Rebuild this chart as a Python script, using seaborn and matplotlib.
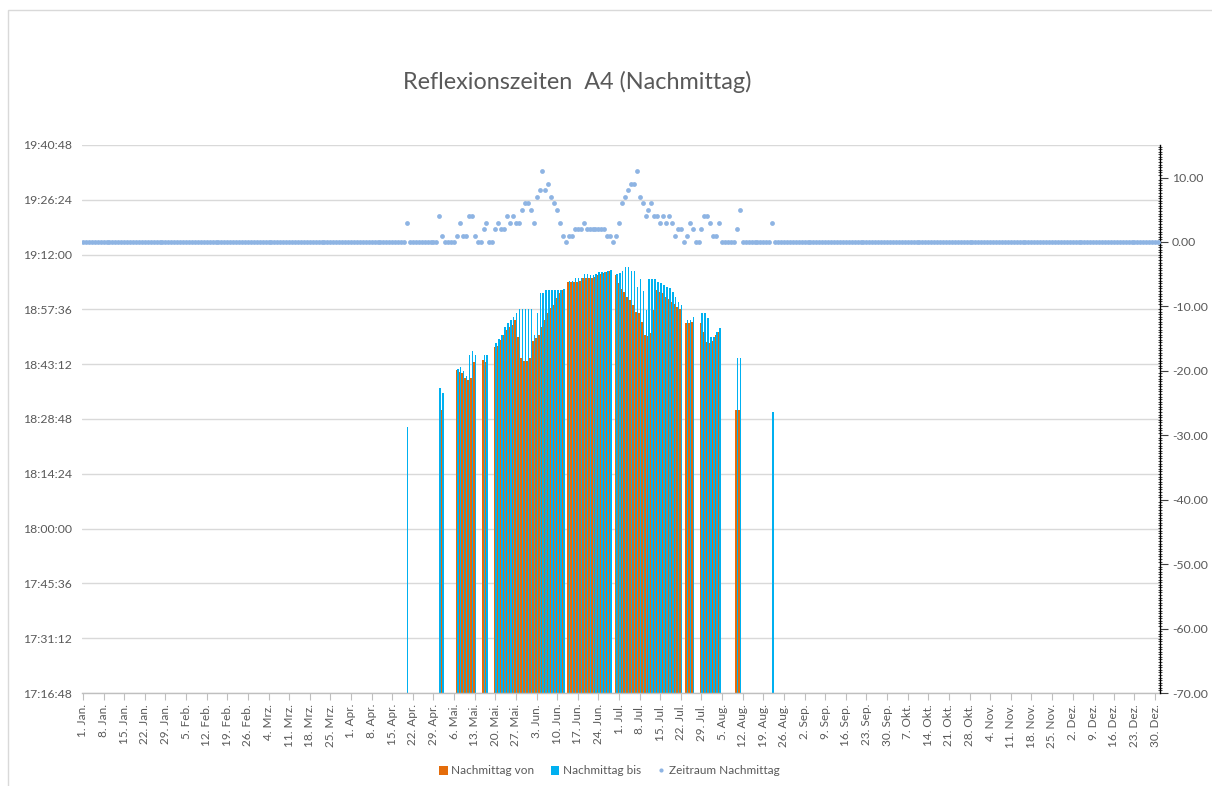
import numpy as np
import pandas as pd
import matplotlib
matplotlib.use("Agg")
import matplotlib.pyplot as plt
import seaborn as sns
from matplotlib.ticker import FixedLocator, FuncFormatter, MultipleLocator
from matplotlib.patches import Rectangle, Patch
from matplotlib.lines import Line2D

# ---------------- data ----------------
titel = "Reflexionszeiten  A4 (Nachmittag)"
serien = ["Nachmittag von", "Nachmittag bis", "Zeitraum Nachmittag"]
anzahl_tage = 366          # 2020 (Schaltjahr), Tag 0 = 1. Jan.
erster_tag = 110           # 20. Apr.

# Nachmittag von (Tage 110 .. 234)
von = (
    [None] * 12                                                   # 110-121
    + ["18:31:10"]                                                # 122
    + [None] * 4                                                  # 123-126
    + ["18:41:40", "18:41:09", "18:40:53", "18:39:34", "18:39:03", "18:39:34", "18:43:47"]  # 127-133
    + [None] * 2
    + ["18:44:18", "18:43:47"]                                    # 136-137
    + [None] * 2
    + ["18:47:43", "18:47:59", "18:49:33", "18:50:52", "18:52:11", "18:52:58", "18:53:30",
       "18:54:49", "18:50:21", "18:44:50", "18:44:02", "18:44:02", "18:44:50", "18:49:18",
       "18:50:05", "18:50:52", "18:52:58", "18:54:49", "18:56:39", "18:57:58", "18:58:45",
       "19:00:36", "19:01:55", "19:02:42"]                        # 140-163
    + [None]
    + ["19:04:48", "19:04:48", "19:04:48", "19:04:48", "19:05:04", "19:05:51", "19:05:51",
       "19:05:51", "19:05:51", "19:06:07", "19:06:38", "19:06:54", "19:07:10", "19:07:26",
       "19:07:41"]                                                # 165-179
    + [None]
    + ["19:06:38", "19:04:32", "19:02:58", "19:02:10", "19:00:52", "19:00:04", "18:58:45",
       "18:56:55", "18:56:39", "18:54:17", "18:50:52", "18:50:37", "18:51:24", "18:57:26",
       "19:02:42", "19:02:10", "19:01:55", "19:00:52", "19:00:20", "18:59:32", "18:59:01",
       "18:58:14", "18:57:42"]                                    # 181-203
    + [None]
    + ["18:54:01", "18:54:01", "18:54:17"]                        # 205-207
    + [None] * 2
    + ["18:54:01", "18:51:40", "18:49:02", "18:48:46", "18:49:18", "18:50:52", "18:51:40"]  # 210-216
    + [None] * 5
    + ["18:31:10", "18:31:10"]                                    # 222-223
    + [None] * 11                                                 # 224-234
)

# Nachmittag bis (Tage 110 .. 234)
bis = (
    ["18:26:42"]                                                  # 110
    + [None] * 10
    + ["18:36:56", "18:35:38"]                                    # 121-122
    + [None] * 4
    + ["18:41:56", "18:42:28", "18:41:25", "18:40:06", "18:45:37", "18:46:40", "18:45:37"]  # 127-133
    + [None] * 2
    + ["18:45:37", "18:45:37"]                                    # 136-137
    + [None] * 2
    + ["18:48:46", "18:49:49", "18:50:52", "18:52:58", "18:54:01", "18:54:49", "18:55:36",
       "18:56:39", "18:57:42", "18:57:42", "18:57:42", "18:57:42", "18:57:42", "18:50:52",
       "18:56:39", "19:01:55", "19:01:55", "19:02:42", "19:02:42", "19:02:42", "19:02:42",
       "19:02:42", "19:02:42", "19:02:58"]                        # 140-163
    + [None]
    + ["19:05:04", "19:05:04", "19:05:51", "19:05:51", "19:05:51", "19:06:54", "19:06:54",
       "19:06:38", "19:06:38", "19:06:54", "19:07:26", "19:07:26", "19:07:26", "19:07:41",
       "19:07:57"]                                                # 165-179
    + [None]
    + ["19:06:54", "19:07:10", "19:07:41", "19:08:44", "19:08:44", "19:07:41", "19:07:41",
       "19:03:29", "19:05:35", "19:02:26", "18:57:26", "19:05:35", "19:05:35", "19:05:35",
       "19:04:48", "19:04:32", "19:04:01", "19:03:29", "19:03:13", "19:02:10", "19:00:52",
       "18:59:32", "18:58:45"]                                    # 181-203
    + [None]
    + ["18:54:49", "18:54:49", "18:55:36"]                        # 205-207
    + [None] * 2
    + ["18:56:39", "18:56:39", "18:55:20", "18:50:21", "18:50:21", "18:51:40", "18:52:43"]  # 210-216
    + [None] * 5
    + ["18:44:50", "18:44:50"]                                    # 222-223
    + [None] * 10
    + ["18:30:38"]                                                # 234
)

# Zeitraum Nachmittag (Tage 110 .. 234), sonst 0
zeitraum = (
    [3] + [0] * 10
    + [4, 1] + [0] * 4
    + [1, 3, 1, 1, 4, 4, 1] + [0, 0]
    + [2, 3] + [0, 0]
    + [2, 3, 2, 2, 4, 3, 4, 3, 3, 5, 6, 6, 5, 3, 7, 8, 11, 8, 9, 7, 6, 5, 3, 1]
    + [0]
    + [1, 1, 2, 2, 2, 3, 2, 2, 2, 2, 2, 2, 2, 1, 1]
    + [0]
    + [1, 3, 6, 7, 8, 9, 9, 11, 7, 6, 4, 5, 6, 4, 4, 3, 4, 3, 4, 3, 1, 2, 2]
    + [0]
    + [1, 3, 2] + [0, 0]
    + [2, 4, 4, 3, 1, 1, 3] + [0] * 5
    + [2, 5] + [0] * 10
    + [3]
)

x_tick_tage = list(range(0, 365, 7))
x_tick_labels = [
    "1. Jan.", "8. Jan.", "15. Jan.", "22. Jan.", "29. Jan.",
    "5. Feb.", "12. Feb.", "19. Feb.", "26. Feb.",
    "4. Mrz.", "11. Mrz.", "18. Mrz.", "25. Mrz.",
    "1. Apr.", "8. Apr.", "15. Apr.", "22. Apr.", "29. Apr.",
    "6. Mai.", "13. Mai.", "20. Mai.", "27. Mai.",
    "3. Jun.", "10. Jun.", "17. Jun.", "24. Jun.",
    "1. Jul.", "8. Jul.", "15. Jul.", "22. Jul.", "29. Jul.",
    "5. Aug.", "12. Aug.", "19. Aug.", "26. Aug.",
    "2. Sep.", "9. Sep.", "16. Sep.", "23. Sep.", "30. Sep.",
    "7. Okt.", "14. Okt.", "21. Okt.", "28. Okt.",
    "4. Nov.", "11. Nov.", "18. Nov.", "25. Nov.",
    "2. Dez.", "9. Dez.", "16. Dez.", "23. Dez.", "30. Dez.",
]
y_tick_labels = ["17:16:48", "17:31:12", "17:45:36", "18:00:00", "18:14:24", "18:28:48",
                 "18:43:12", "18:57:36", "19:12:00", "19:26:24", "19:40:48"]
y2_ticks = [-70, -60, -50, -40, -30, -20, -10, 0, 10]

assert len(von) == len(bis) == len(zeitraum) == 125


def sek(s):
    h, m, x = (int(v) for v in s.split(":"))
    return h * 3600 + m * 60 + x


# ---------------- tables ----------------
tage = list(range(erster_tag, erster_tag + len(von)))
rows = []
for t, a, b in zip(tage, von, bis):
    if a is not None:
        rows.append({"tag": t, "serie": serien[0], "sek": sek(a)})
    if b is not None:
        rows.append({"tag": t, "serie": serien[1], "sek": sek(b)})
df_bars = pd.DataFrame(rows)

zeit_voll = np.zeros(anzahl_tage)
zeit_voll[erster_tag:erster_tag + len(zeitraum)] = zeitraum
df_pts = pd.DataFrame({"tag": np.arange(anzahl_tage), "wert": zeit_voll})

# ---------------- style ----------------
sns.set_style("white")
plt.rcParams["font.family"] = ["Lato", "DejaVu Sans"]
grau = "#595959"
orange = "#E46C0A"
blau = "#00B0F0"
punkt = "#8EB4E3"

fig = plt.figure(figsize=(12.12, 7.86), dpi=100)
ax = fig.add_axes([81.5 / 1212, 93 / 786, 1078 / 1212, 548 / 786])

sns.barplot(data=df_bars, x="tag", y="sek", hue="serie", order=list(range(anzahl_tage)),
            hue_order=serien[:2], palette=[orange, blau], dodge=True, width=1.0,
            errorbar=None, saturation=1, linewidth=0, legend=False, ax=ax)

ymin, ymax = sek(y_tick_labels[0]), sek(y_tick_labels[-1])
ax.set_ylim(ymin, ymax)
ax.yaxis.set_major_locator(FixedLocator([sek(s) for s in y_tick_labels]))
ax.set_yticklabels(y_tick_labels)
ax.set_xlim(-0.5, anzahl_tage - 0.5)
ax.xaxis.set_major_locator(FixedLocator(x_tick_tage))
ax.set_xticklabels(x_tick_labels, rotation=90)
ax.set_xlabel("")
ax.set_ylabel("")
ax.yaxis.grid(True, color="#d9d9d9", linewidth=1.0)
ax.set_axisbelow(True)
for s in ["top", "right", "left"]:
    ax.spines[s].set_visible(False)
ax.spines["bottom"].set_color("#bfbfbf")
ax.spines["bottom"].set_linewidth(1.0)
ax.tick_params(axis="y", which="major", length=0, labelsize=8.8, labelcolor=grau,
               pad=6.8, left=True)
ax.tick_params(axis="x", which="major", direction="out", length=5, color="#bfbfbf",
               labelsize=8.5, labelcolor=grau, pad=3, bottom=True)

ax2 = ax.twinx()
sns.scatterplot(data=df_pts, x="tag", y="wert", ax=ax2, color=punkt, s=12,
                linewidth=0, marker="o", legend=False, zorder=5)
ax2.set_ylim(-70, 15.05)
ax2.set_xlim(-0.5, anzahl_tage - 0.5)
ax2.yaxis.set_major_locator(FixedLocator(y2_ticks))
ax2.yaxis.set_minor_locator(MultipleLocator(0.4))
ax2.yaxis.set_major_formatter(FuncFormatter(lambda v, p: f"{v:.2f}"))
ax2.set_ylabel("")
ax2.set_xlabel("")
for s in ["top", "left", "bottom"]:
    ax2.spines[s].set_visible(False)
ax2.spines["right"].set_color("black")
ax2.spines["right"].set_linewidth(1.0)
ax2.tick_params(axis="y", which="major", direction="out", length=6, color="#404040",
                labelsize=8.8, labelcolor=grau, pad=3, right=True)
ax2.tick_params(axis="y", which="minor", direction="inout", length=3, width=0.5,
                color="black", right=True)

fig.text(0.476, 1 - 82 / 786, titel, ha="center", va="center", fontsize=16.8, color=grau)

handles = [Patch(facecolor=orange, edgecolor="none"),
           Patch(facecolor=blau, edgecolor="none"),
           Line2D([], [], marker="o", linestyle="none", markersize=3,
                  markerfacecolor=punkt, markeredgewidth=0)]
fig.legend(handles, serien, loc="center", bbox_to_anchor=(0.503, 1 - 771 / 786), ncol=3,
           frameon=False, fontsize=8.5, labelcolor=grau, handlelength=0.7,
           handleheight=0.7, columnspacing=1.4, handletextpad=0.3)

fig.patches.append(Rectangle((8 / 1212, -0.01), 1.02, 1 - 10 / 786 + 0.01,
                             transform=fig.transFigure, fill=False,
                             edgecolor="#d9d9d9", linewidth=1.0))

fig.savefig("out.png", dpi=100, facecolor="white")
